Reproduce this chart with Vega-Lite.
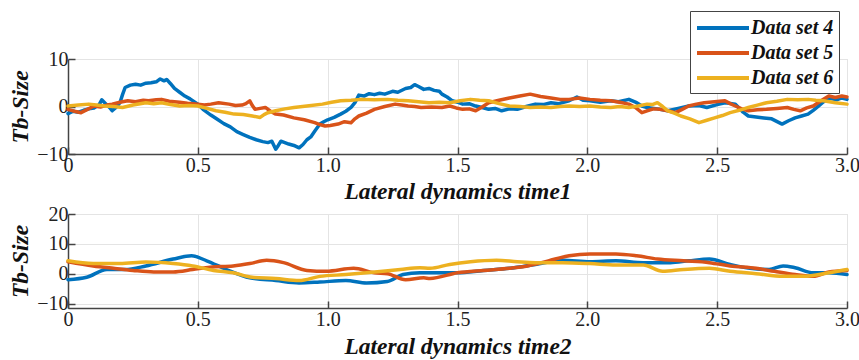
{
  "$schema": "https://vega.github.io/schema/vega-lite/v6.json",
  "background": "white",
  "padding": {"left": 8, "top": 10, "right": 0, "bottom": 2},
  "spacing": 60,
  "bounds": "flush",
  "config": {
    "font": "Liberation Serif",
    "view": {"stroke": "#d8d8d8", "strokeWidth": 1},
    "axis": {
      "labelFont": "Times New Roman, Liberation Serif, serif", "labelFontSize": 20, "labelColor": "#222", "labelFontWeight": "normal",
      "titleFont": "Liberation Serif", "titleFontSize": 23.5, "titleFontStyle": "italic", "titleFontWeight": "bold", "titleColor": "#111",
      "domainColor": "#444", "domainWidth": 1.5, "tickColor": "#444", "tickWidth": 1.5, "tickSize": -7,
      "gridColor": "#e4e4e4", "gridWidth": 1
    },
    "legend": {"labelFont": "Liberation Serif", "labelFontSize": 20, "labelFontStyle": "italic", "labelFontWeight": "bold", "labelColor": "#111"}
  },
  "datasets": {
    "top": [
      {"t":0,"v":-1.5,"s":"Data set 4"},{"t":0.02,"v":-1.0,"s":"Data set 4"},{"t":0.04,"v":-1.2,"s":"Data set 4"},{"t":0.06,"v":-0.8,"s":"Data set 4"},{"t":0.08,"v":-0.5,"s":"Data set 4"},{"t":0.10,"v":-0.3,"s":"Data set 4"},{"t":0.12,"v":0.4,"s":"Data set 4"},{"t":0.13,"v":1.4,"s":"Data set 4"},{"t":0.145,"v":0.6,"s":"Data set 4"},{"t":0.16,"v":-0.2,"s":"Data set 4"},{"t":0.17,"v":-0.9,"s":"Data set 4"},{"t":0.185,"v":-0.2,"s":"Data set 4"},{"t":0.20,"v":0.8,"s":"Data set 4"},{"t":0.21,"v":2.5,"s":"Data set 4"},{"t":0.22,"v":4.0,"s":"Data set 4"},{"t":0.24,"v":4.5,"s":"Data set 4"},{"t":0.26,"v":4.7,"s":"Data set 4"},{"t":0.28,"v":4.5,"s":"Data set 4"},{"t":0.30,"v":4.9,"s":"Data set 4"},{"t":0.32,"v":5.0,"s":"Data set 4"},{"t":0.34,"v":5.2,"s":"Data set 4"},{"t":0.355,"v":5.8,"s":"Data set 4"},{"t":0.37,"v":5.4,"s":"Data set 4"},{"t":0.38,"v":5.7,"s":"Data set 4"},{"t":0.395,"v":4.8,"s":"Data set 4"},{"t":0.41,"v":3.8,"s":"Data set 4"},{"t":0.43,"v":3.0,"s":"Data set 4"},{"t":0.45,"v":2.2,"s":"Data set 4"},{"t":0.47,"v":1.6,"s":"Data set 4"},{"t":0.50,"v":0.5,"s":"Data set 4"},{"t":0.52,"v":-0.6,"s":"Data set 4"},{"t":0.55,"v":-1.8,"s":"Data set 4"},{"t":0.575,"v":-2.7,"s":"Data set 4"},{"t":0.60,"v":-3.6,"s":"Data set 4"},{"t":0.625,"v":-4.3,"s":"Data set 4"},{"t":0.65,"v":-5.3,"s":"Data set 4"},{"t":0.675,"v":-5.9,"s":"Data set 4"},{"t":0.70,"v":-6.5,"s":"Data set 4"},{"t":0.725,"v":-7.0,"s":"Data set 4"},{"t":0.75,"v":-7.4,"s":"Data set 4"},{"t":0.77,"v":-7.6,"s":"Data set 4"},{"t":0.785,"v":-7.3,"s":"Data set 4"},{"t":0.80,"v":-9.0,"s":"Data set 4"},{"t":0.81,"v":-8.2,"s":"Data set 4"},{"t":0.82,"v":-7.3,"s":"Data set 4"},{"t":0.835,"v":-7.6,"s":"Data set 4"},{"t":0.85,"v":-7.9,"s":"Data set 4"},{"t":0.87,"v":-8.2,"s":"Data set 4"},{"t":0.89,"v":-8.7,"s":"Data set 4"},{"t":0.905,"v":-8.0,"s":"Data set 4"},{"t":0.92,"v":-7.0,"s":"Data set 4"},{"t":0.935,"v":-6.4,"s":"Data set 4"},{"t":0.95,"v":-5.2,"s":"Data set 4"},{"t":0.97,"v":-3.7,"s":"Data set 4"},{"t":0.985,"v":-3.2,"s":"Data set 4"},{"t":1.00,"v":-2.8,"s":"Data set 4"},{"t":1.025,"v":-2.3,"s":"Data set 4"},{"t":1.05,"v":-1.6,"s":"Data set 4"},{"t":1.07,"v":-1.0,"s":"Data set 4"},{"t":1.09,"v":-0.2,"s":"Data set 4"},{"t":1.105,"v":0.8,"s":"Data set 4"},{"t":1.12,"v":2.4,"s":"Data set 4"},{"t":1.14,"v":2.2,"s":"Data set 4"},{"t":1.16,"v":2.7,"s":"Data set 4"},{"t":1.18,"v":2.5,"s":"Data set 4"},{"t":1.20,"v":2.8,"s":"Data set 4"},{"t":1.22,"v":2.6,"s":"Data set 4"},{"t":1.25,"v":3.2,"s":"Data set 4"},{"t":1.27,"v":3.0,"s":"Data set 4"},{"t":1.30,"v":3.8,"s":"Data set 4"},{"t":1.32,"v":4.0,"s":"Data set 4"},{"t":1.335,"v":4.6,"s":"Data set 4"},{"t":1.35,"v":4.2,"s":"Data set 4"},{"t":1.37,"v":3.6,"s":"Data set 4"},{"t":1.39,"v":3.8,"s":"Data set 4"},{"t":1.41,"v":3.4,"s":"Data set 4"},{"t":1.43,"v":3.2,"s":"Data set 4"},{"t":1.44,"v":2.6,"s":"Data set 4"},{"t":1.46,"v":2.0,"s":"Data set 4"},{"t":1.48,"v":1.2,"s":"Data set 4"},{"t":1.50,"v":0.9,"s":"Data set 4"},{"t":1.52,"v":0.5,"s":"Data set 4"},{"t":1.545,"v":0.6,"s":"Data set 4"},{"t":1.57,"v":0.1,"s":"Data set 4"},{"t":1.595,"v":-0.2,"s":"Data set 4"},{"t":1.62,"v":-0.6,"s":"Data set 4"},{"t":1.645,"v":-0.4,"s":"Data set 4"},{"t":1.67,"v":-0.9,"s":"Data set 4"},{"t":1.70,"v":-0.5,"s":"Data set 4"},{"t":1.73,"v":-0.6,"s":"Data set 4"},{"t":1.765,"v":0.0,"s":"Data set 4"},{"t":1.80,"v":0.5,"s":"Data set 4"},{"t":1.83,"v":0.4,"s":"Data set 4"},{"t":1.86,"v":0.8,"s":"Data set 4"},{"t":1.89,"v":0.6,"s":"Data set 4"},{"t":1.93,"v":1.2,"s":"Data set 4"},{"t":1.96,"v":2.0,"s":"Data set 4"},{"t":1.985,"v":1.3,"s":"Data set 4"},{"t":2.01,"v":1.2,"s":"Data set 4"},{"t":2.05,"v":0.9,"s":"Data set 4"},{"t":2.09,"v":1.2,"s":"Data set 4"},{"t":2.12,"v":1.0,"s":"Data set 4"},{"t":2.16,"v":1.5,"s":"Data set 4"},{"t":2.19,"v":0.8,"s":"Data set 4"},{"t":2.21,"v":0.1,"s":"Data set 4"},{"t":2.23,"v":-0.2,"s":"Data set 4"},{"t":2.27,"v":-0.5,"s":"Data set 4"},{"t":2.31,"v":-0.9,"s":"Data set 4"},{"t":2.35,"v":-0.4,"s":"Data set 4"},{"t":2.39,"v":0.1,"s":"Data set 4"},{"t":2.43,"v":0.2,"s":"Data set 4"},{"t":2.46,"v":-0.2,"s":"Data set 4"},{"t":2.50,"v":0.4,"s":"Data set 4"},{"t":2.53,"v":0.8,"s":"Data set 4"},{"t":2.57,"v":0.5,"s":"Data set 4"},{"t":2.60,"v":-1.2,"s":"Data set 4"},{"t":2.62,"v":-2.0,"s":"Data set 4"},{"t":2.65,"v":-2.2,"s":"Data set 4"},{"t":2.68,"v":-2.4,"s":"Data set 4"},{"t":2.71,"v":-2.6,"s":"Data set 4"},{"t":2.75,"v":-3.7,"s":"Data set 4"},{"t":2.775,"v":-3.0,"s":"Data set 4"},{"t":2.80,"v":-2.4,"s":"Data set 4"},{"t":2.825,"v":-2.0,"s":"Data set 4"},{"t":2.85,"v":-1.6,"s":"Data set 4"},{"t":2.87,"v":-0.8,"s":"Data set 4"},{"t":2.89,"v":0.1,"s":"Data set 4"},{"t":2.91,"v":1.0,"s":"Data set 4"},{"t":2.93,"v":1.8,"s":"Data set 4"},{"t":2.96,"v":1.4,"s":"Data set 4"},{"t":2.98,"v":1.8,"s":"Data set 4"},{"t":3.0,"v":1.5,"s":"Data set 4"},

      {"t":0,"v":-0.6,"s":"Data set 5"},{"t":0.025,"v":-1.0,"s":"Data set 5"},{"t":0.05,"v":-1.3,"s":"Data set 5"},{"t":0.075,"v":-0.6,"s":"Data set 5"},{"t":0.10,"v":0.1,"s":"Data set 5"},{"t":0.125,"v":-0.1,"s":"Data set 5"},{"t":0.15,"v":0.3,"s":"Data set 5"},{"t":0.17,"v":0.5,"s":"Data set 5"},{"t":0.20,"v":0.9,"s":"Data set 5"},{"t":0.23,"v":1.2,"s":"Data set 5"},{"t":0.26,"v":1.0,"s":"Data set 5"},{"t":0.29,"v":1.3,"s":"Data set 5"},{"t":0.31,"v":1.2,"s":"Data set 5"},{"t":0.34,"v":1.4,"s":"Data set 5"},{"t":0.36,"v":1.5,"s":"Data set 5"},{"t":0.39,"v":1.1,"s":"Data set 5"},{"t":0.43,"v":0.9,"s":"Data set 5"},{"t":0.46,"v":0.7,"s":"Data set 5"},{"t":0.50,"v":0.5,"s":"Data set 5"},{"t":0.525,"v":0.3,"s":"Data set 5"},{"t":0.55,"v":0.5,"s":"Data set 5"},{"t":0.58,"v":0.8,"s":"Data set 5"},{"t":0.62,"v":0.5,"s":"Data set 5"},{"t":0.645,"v":0.2,"s":"Data set 5"},{"t":0.67,"v":0.3,"s":"Data set 5"},{"t":0.685,"v":0.6,"s":"Data set 5"},{"t":0.70,"v":1.2,"s":"Data set 5"},{"t":0.71,"v":0.2,"s":"Data set 5"},{"t":0.72,"v":-0.6,"s":"Data set 5"},{"t":0.74,"v":-0.4,"s":"Data set 5"},{"t":0.76,"v":-0.2,"s":"Data set 5"},{"t":0.78,"v":-1.0,"s":"Data set 5"},{"t":0.80,"v":-1.6,"s":"Data set 5"},{"t":0.83,"v":-1.8,"s":"Data set 5"},{"t":0.87,"v":-2.4,"s":"Data set 5"},{"t":0.91,"v":-2.8,"s":"Data set 5"},{"t":0.95,"v":-3.4,"s":"Data set 5"},{"t":0.97,"v":-3.8,"s":"Data set 5"},{"t":0.99,"v":-4.1,"s":"Data set 5"},{"t":1.01,"v":-4.0,"s":"Data set 5"},{"t":1.04,"v":-3.7,"s":"Data set 5"},{"t":1.065,"v":-3.2,"s":"Data set 5"},{"t":1.09,"v":-3.4,"s":"Data set 5"},{"t":1.105,"v":-2.6,"s":"Data set 5"},{"t":1.12,"v":-2.0,"s":"Data set 5"},{"t":1.15,"v":-1.4,"s":"Data set 5"},{"t":1.18,"v":-0.6,"s":"Data set 5"},{"t":1.22,"v":0.0,"s":"Data set 5"},{"t":1.26,"v":0.5,"s":"Data set 5"},{"t":1.285,"v":0.3,"s":"Data set 5"},{"t":1.31,"v":0.1,"s":"Data set 5"},{"t":1.335,"v":0.0,"s":"Data set 5"},{"t":1.36,"v":-0.2,"s":"Data set 5"},{"t":1.40,"v":-0.1,"s":"Data set 5"},{"t":1.44,"v":-0.2,"s":"Data set 5"},{"t":1.47,"v":0.1,"s":"Data set 5"},{"t":1.495,"v":-0.3,"s":"Data set 5"},{"t":1.52,"v":-0.6,"s":"Data set 5"},{"t":1.545,"v":-0.5,"s":"Data set 5"},{"t":1.57,"v":-0.9,"s":"Data set 5"},{"t":1.595,"v":-0.1,"s":"Data set 5"},{"t":1.62,"v":0.8,"s":"Data set 5"},{"t":1.66,"v":1.3,"s":"Data set 5"},{"t":1.70,"v":1.8,"s":"Data set 5"},{"t":1.74,"v":2.2,"s":"Data set 5"},{"t":1.78,"v":2.6,"s":"Data set 5"},{"t":1.82,"v":2.1,"s":"Data set 5"},{"t":1.86,"v":1.8,"s":"Data set 5"},{"t":1.895,"v":1.5,"s":"Data set 5"},{"t":1.93,"v":1.5,"s":"Data set 5"},{"t":1.97,"v":1.8,"s":"Data set 5"},{"t":2.01,"v":1.5,"s":"Data set 5"},{"t":2.05,"v":1.3,"s":"Data set 5"},{"t":2.09,"v":1.2,"s":"Data set 5"},{"t":2.125,"v":0.9,"s":"Data set 5"},{"t":2.16,"v":0.5,"s":"Data set 5"},{"t":2.185,"v":-0.2,"s":"Data set 5"},{"t":2.21,"v":-1.3,"s":"Data set 5"},{"t":2.23,"v":-0.9,"s":"Data set 5"},{"t":2.255,"v":-0.5,"s":"Data set 5"},{"t":2.28,"v":-0.6,"s":"Data set 5"},{"t":2.31,"v":-0.9,"s":"Data set 5"},{"t":2.34,"v":-1.3,"s":"Data set 5"},{"t":2.365,"v":-0.6,"s":"Data set 5"},{"t":2.39,"v":0.1,"s":"Data set 5"},{"t":2.42,"v":0.5,"s":"Data set 5"},{"t":2.45,"v":0.8,"s":"Data set 5"},{"t":2.49,"v":1.0,"s":"Data set 5"},{"t":2.53,"v":1.2,"s":"Data set 5"},{"t":2.55,"v":0.6,"s":"Data set 5"},{"t":2.57,"v":0.1,"s":"Data set 5"},{"t":2.595,"v":-0.5,"s":"Data set 5"},{"t":2.62,"v":-0.9,"s":"Data set 5"},{"t":2.655,"v":-0.7,"s":"Data set 5"},{"t":2.69,"v":-0.6,"s":"Data set 5"},{"t":2.73,"v":-0.4,"s":"Data set 5"},{"t":2.77,"v":-0.2,"s":"Data set 5"},{"t":2.795,"v":-0.6,"s":"Data set 5"},{"t":2.82,"v":-0.9,"s":"Data set 5"},{"t":2.845,"v":-0.3,"s":"Data set 5"},{"t":2.87,"v":0.1,"s":"Data set 5"},{"t":2.90,"v":1.2,"s":"Data set 5"},{"t":2.93,"v":2.2,"s":"Data set 5"},{"t":2.955,"v":1.9,"s":"Data set 5"},{"t":2.98,"v":2.2,"s":"Data set 5"},{"t":3.0,"v":2.0,"s":"Data set 5"},

      {"t":0,"v":0.1,"s":"Data set 6"},{"t":0.04,"v":0.3,"s":"Data set 6"},{"t":0.08,"v":0.5,"s":"Data set 6"},{"t":0.11,"v":0.3,"s":"Data set 6"},{"t":0.14,"v":0.1,"s":"Data set 6"},{"t":0.175,"v":0.0,"s":"Data set 6"},{"t":0.21,"v":-0.2,"s":"Data set 6"},{"t":0.25,"v":0.3,"s":"Data set 6"},{"t":0.30,"v":0.8,"s":"Data set 6"},{"t":0.33,"v":0.6,"s":"Data set 6"},{"t":0.36,"v":0.8,"s":"Data set 6"},{"t":0.395,"v":0.4,"s":"Data set 6"},{"t":0.43,"v":0.1,"s":"Data set 6"},{"t":0.465,"v":0.2,"s":"Data set 6"},{"t":0.50,"v":0.1,"s":"Data set 6"},{"t":0.535,"v":-0.4,"s":"Data set 6"},{"t":0.57,"v":-0.9,"s":"Data set 6"},{"t":0.605,"v":-1.2,"s":"Data set 6"},{"t":0.64,"v":-1.6,"s":"Data set 6"},{"t":0.675,"v":-1.7,"s":"Data set 6"},{"t":0.71,"v":-2.0,"s":"Data set 6"},{"t":0.74,"v":-2.3,"s":"Data set 6"},{"t":0.755,"v":-1.7,"s":"Data set 6"},{"t":0.77,"v":-1.3,"s":"Data set 6"},{"t":0.80,"v":-0.9,"s":"Data set 6"},{"t":0.835,"v":-0.5,"s":"Data set 6"},{"t":0.87,"v":-0.2,"s":"Data set 6"},{"t":0.92,"v":0.1,"s":"Data set 6"},{"t":0.98,"v":0.5,"s":"Data set 6"},{"t":1.015,"v":0.9,"s":"Data set 6"},{"t":1.05,"v":1.2,"s":"Data set 6"},{"t":1.09,"v":1.3,"s":"Data set 6"},{"t":1.13,"v":1.5,"s":"Data set 6"},{"t":1.18,"v":1.4,"s":"Data set 6"},{"t":1.23,"v":1.5,"s":"Data set 6"},{"t":1.27,"v":1.3,"s":"Data set 6"},{"t":1.31,"v":1.2,"s":"Data set 6"},{"t":1.35,"v":1.0,"s":"Data set 6"},{"t":1.39,"v":0.8,"s":"Data set 6"},{"t":1.43,"v":0.9,"s":"Data set 6"},{"t":1.47,"v":0.8,"s":"Data set 6"},{"t":1.51,"v":1.2,"s":"Data set 6"},{"t":1.55,"v":1.5,"s":"Data set 6"},{"t":1.585,"v":1.3,"s":"Data set 6"},{"t":1.62,"v":1.2,"s":"Data set 6"},{"t":1.66,"v":0.6,"s":"Data set 6"},{"t":1.70,"v":0.1,"s":"Data set 6"},{"t":1.74,"v":0.0,"s":"Data set 6"},{"t":1.78,"v":-0.2,"s":"Data set 6"},{"t":1.82,"v":-0.1,"s":"Data set 6"},{"t":1.86,"v":-0.2,"s":"Data set 6"},{"t":1.895,"v":0.0,"s":"Data set 6"},{"t":1.93,"v":0.1,"s":"Data set 6"},{"t":1.97,"v":0.0,"s":"Data set 6"},{"t":2.01,"v":0.1,"s":"Data set 6"},{"t":2.05,"v":-0.1,"s":"Data set 6"},{"t":2.09,"v":-0.2,"s":"Data set 6"},{"t":2.125,"v":0.0,"s":"Data set 6"},{"t":2.16,"v":-0.2,"s":"Data set 6"},{"t":2.195,"v":0.1,"s":"Data set 6"},{"t":2.23,"v":0.5,"s":"Data set 6"},{"t":2.25,"v":0.4,"s":"Data set 6"},{"t":2.27,"v":0.8,"s":"Data set 6"},{"t":2.29,"v":0.0,"s":"Data set 6"},{"t":2.31,"v":-0.9,"s":"Data set 6"},{"t":2.335,"v":-1.4,"s":"Data set 6"},{"t":2.36,"v":-2.0,"s":"Data set 6"},{"t":2.395,"v":-2.6,"s":"Data set 6"},{"t":2.43,"v":-3.4,"s":"Data set 6"},{"t":2.46,"v":-2.9,"s":"Data set 6"},{"t":2.49,"v":-2.4,"s":"Data set 6"},{"t":2.52,"v":-1.9,"s":"Data set 6"},{"t":2.55,"v":-1.3,"s":"Data set 6"},{"t":2.585,"v":-0.8,"s":"Data set 6"},{"t":2.62,"v":-0.2,"s":"Data set 6"},{"t":2.655,"v":0.3,"s":"Data set 6"},{"t":2.69,"v":0.8,"s":"Data set 6"},{"t":2.73,"v":1.1,"s":"Data set 6"},{"t":2.77,"v":1.5,"s":"Data set 6"},{"t":2.81,"v":1.4,"s":"Data set 6"},{"t":2.85,"v":1.5,"s":"Data set 6"},{"t":2.88,"v":1.3,"s":"Data set 6"},{"t":2.91,"v":1.2,"s":"Data set 6"},{"t":2.955,"v":0.8,"s":"Data set 6"},{"t":3.0,"v":0.5,"s":"Data set 6"}
    ],
    "bottom": [
      {"t":0,"v":-2.0,"s":"Data set 4"},{"t":0.072,"v":-1.2,"s":"Data set 4"},{"t":0.15,"v":1.4,"s":"Data set 4"},{"t":0.22,"v":1.4,"s":"Data set 4"},{"t":0.30,"v":2.6,"s":"Data set 4"},{"t":0.405,"v":4.9,"s":"Data set 4"},{"t":0.476,"v":6.0,"s":"Data set 4"},{"t":0.534,"v":4.3,"s":"Data set 4"},{"t":0.61,"v":1.4,"s":"Data set 4"},{"t":0.70,"v":-1.4,"s":"Data set 4"},{"t":0.80,"v":-2.3,"s":"Data set 4"},{"t":0.89,"v":-3.1,"s":"Data set 4"},{"t":0.97,"v":-2.8,"s":"Data set 4"},{"t":1.07,"v":-2.3,"s":"Data set 4"},{"t":1.15,"v":-3.1,"s":"Data set 4"},{"t":1.23,"v":-2.6,"s":"Data set 4"},{"t":1.29,"v":-0.3,"s":"Data set 4"},{"t":1.355,"v":0.3,"s":"Data set 4"},{"t":1.50,"v":0.3,"s":"Data set 4"},{"t":1.60,"v":1.1,"s":"Data set 4"},{"t":1.70,"v":1.8,"s":"Data set 4"},{"t":1.80,"v":3.1,"s":"Data set 4"},{"t":1.905,"v":4.5,"s":"Data set 4"},{"t":2.01,"v":4.0,"s":"Data set 4"},{"t":2.11,"v":4.3,"s":"Data set 4"},{"t":2.215,"v":3.7,"s":"Data set 4"},{"t":2.32,"v":3.7,"s":"Data set 4"},{"t":2.39,"v":4.3,"s":"Data set 4"},{"t":2.47,"v":4.9,"s":"Data set 4"},{"t":2.55,"v":3.1,"s":"Data set 4"},{"t":2.626,"v":1.8,"s":"Data set 4"},{"t":2.70,"v":1.4,"s":"Data set 4"},{"t":2.754,"v":2.6,"s":"Data set 4"},{"t":2.80,"v":2.0,"s":"Data set 4"},{"t":2.87,"v":0.3,"s":"Data set 4"},{"t":2.93,"v":0.3,"s":"Data set 4"},{"t":3.0,"v":-0.3,"s":"Data set 4"},
      {"t":0,"v":4.0,"s":"Data set 5"},{"t":0.097,"v":2.6,"s":"Data set 5"},{"t":0.175,"v":1.8,"s":"Data set 5"},{"t":0.25,"v":1.1,"s":"Data set 5"},{"t":0.33,"v":0.6,"s":"Data set 5"},{"t":0.405,"v":0.6,"s":"Data set 5"},{"t":0.48,"v":1.4,"s":"Data set 5"},{"t":0.547,"v":2.2,"s":"Data set 5"},{"t":0.636,"v":2.6,"s":"Data set 5"},{"t":0.70,"v":3.4,"s":"Data set 5"},{"t":0.765,"v":4.5,"s":"Data set 5"},{"t":0.83,"v":3.7,"s":"Data set 5"},{"t":0.92,"v":1.1,"s":"Data set 5"},{"t":0.995,"v":0.8,"s":"Data set 5"},{"t":1.10,"v":1.8,"s":"Data set 5"},{"t":1.18,"v":0.3,"s":"Data set 5"},{"t":1.23,"v":0.0,"s":"Data set 5"},{"t":1.30,"v":-2.0,"s":"Data set 5"},{"t":1.37,"v":-1.4,"s":"Data set 5"},{"t":1.394,"v":-1.6,"s":"Data set 5"},{"t":1.50,"v":0.3,"s":"Data set 5"},{"t":1.60,"v":1.1,"s":"Data set 5"},{"t":1.70,"v":1.8,"s":"Data set 5"},{"t":1.77,"v":2.6,"s":"Data set 5"},{"t":1.85,"v":4.3,"s":"Data set 5"},{"t":1.93,"v":6.0,"s":"Data set 5"},{"t":2.01,"v":6.6,"s":"Data set 5"},{"t":2.11,"v":6.6,"s":"Data set 5"},{"t":2.19,"v":6.0,"s":"Data set 5"},{"t":2.27,"v":4.9,"s":"Data set 5"},{"t":2.37,"v":4.3,"s":"Data set 5"},{"t":2.47,"v":3.7,"s":"Data set 5"},{"t":2.55,"v":2.6,"s":"Data set 5"},{"t":2.65,"v":1.8,"s":"Data set 5"},{"t":2.72,"v":0.8,"s":"Data set 5"},{"t":2.80,"v":-0.3,"s":"Data set 5"},{"t":2.87,"v":-0.9,"s":"Data set 5"},{"t":2.93,"v":0.6,"s":"Data set 5"},{"t":3.0,"v":1.1,"s":"Data set 5"},
      {"t":0,"v":4.3,"s":"Data set 6"},{"t":0.097,"v":3.4,"s":"Data set 6"},{"t":0.20,"v":3.4,"s":"Data set 6"},{"t":0.30,"v":3.9,"s":"Data set 6"},{"t":0.405,"v":3.4,"s":"Data set 6"},{"t":0.48,"v":2.6,"s":"Data set 6"},{"t":0.56,"v":1.1,"s":"Data set 6"},{"t":0.636,"v":0.3,"s":"Data set 6"},{"t":0.71,"v":-1.2,"s":"Data set 6"},{"t":0.80,"v":-1.6,"s":"Data set 6"},{"t":0.89,"v":-2.3,"s":"Data set 6"},{"t":0.97,"v":-0.9,"s":"Data set 6"},{"t":1.07,"v":-0.3,"s":"Data set 6"},{"t":1.15,"v":0.3,"s":"Data set 6"},{"t":1.28,"v":1.4,"s":"Data set 6"},{"t":1.355,"v":2.0,"s":"Data set 6"},{"t":1.394,"v":1.8,"s":"Data set 6"},{"t":1.47,"v":3.1,"s":"Data set 6"},{"t":1.55,"v":4.0,"s":"Data set 6"},{"t":1.65,"v":4.5,"s":"Data set 6"},{"t":1.73,"v":4.0,"s":"Data set 6"},{"t":1.80,"v":3.7,"s":"Data set 6"},{"t":1.905,"v":3.7,"s":"Data set 6"},{"t":2.01,"v":3.4,"s":"Data set 6"},{"t":2.11,"v":2.9,"s":"Data set 6"},{"t":2.215,"v":2.9,"s":"Data set 6"},{"t":2.29,"v":0.8,"s":"Data set 6"},{"t":2.37,"v":1.4,"s":"Data set 6"},{"t":2.47,"v":1.8,"s":"Data set 6"},{"t":2.55,"v":0.8,"s":"Data set 6"},{"t":2.65,"v":0.0,"s":"Data set 6"},{"t":2.754,"v":-0.9,"s":"Data set 6"},{"t":2.83,"v":-0.9,"s":"Data set 6"},{"t":2.93,"v":0.3,"s":"Data set 6"},{"t":3.0,"v":1.4,"s":"Data set 6"}
    ]
  },
  "vconcat": [
    {
      "width": 779,
      "height": 95,
      "data": {"name": "top"},
      "mark": {"type": "line", "strokeWidth": 3.5, "strokeJoin": "round", "strokeCap": "round"},
      "encoding": {
        "x": {"field": "t", "type": "quantitative",
          "scale": {"domain": [0, 3], "nice": false},
          "axis": {"title": "Lateral dynamics time1", "values": [0, 0.5, 1, 1.5, 2, 2.5, 3],
            "labelExpr": "datum.value == 0 ? '0' : format(datum.value, '.1f')",
            "labelPadding": 8, "titlePadding": 4, "labelFlush": false}},
        "y": {"field": "v", "type": "quantitative",
          "scale": {"domain": [-10, 10], "nice": false},
          "axis": {"title": "Tb-Size", "values": [-10, 0, 10], "labelPadding": 7, "titlePadding": 4}},
        "color": {"field": "s", "type": "nominal",
          "scale": {"domain": ["Data set 4", "Data set 5", "Data set 6"], "range": ["#0072BD", "#D95319", "#EDB120"]},
          "legend": {"title": null, "orient": "none", "legendX": 622, "legendY": -48,
            "symbolType": "M-2.6,0H2.6", "symbolSize": 400, "symbolStrokeWidth": 4, "symbolOffset": 16,
            "fillColor": "white", "strokeColor": "#444", "padding": 5, "rowPadding": 3, "columnPadding": 0, "labelOffset": 16}}
      }
    },
    {
      "width": 779,
      "height": 94,
      "data": {"name": "bottom"},
      "mark": {"type": "line", "strokeWidth": 3.5, "interpolate": "monotone", "strokeCap": "round"},
      "encoding": {
        "x": {"field": "t", "type": "quantitative",
          "scale": {"domain": [0, 3], "nice": false},
          "axis": {"title": "Lateral dynamics time2", "values": [0, 0.5, 1, 1.5, 2, 2.5, 3],
            "labelExpr": "datum.value == 0 ? '0' : format(datum.value, '.1f')",
            "labelPadding": 8, "titlePadding": 5, "labelFlush": false}},
        "y": {"field": "v", "type": "quantitative",
          "scale": {"domain": [-11.5, 20], "nice": false},
          "axis": {"title": "Tb-Size", "values": [-10, 0, 10, 20], "labelPadding": 7, "titlePadding": 4}},
        "color": {"field": "s", "type": "nominal",
          "scale": {"domain": ["Data set 4", "Data set 5", "Data set 6"], "range": ["#0072BD", "#D95319", "#EDB120"]},
          "legend": null}
      }
    }
  ]
}
